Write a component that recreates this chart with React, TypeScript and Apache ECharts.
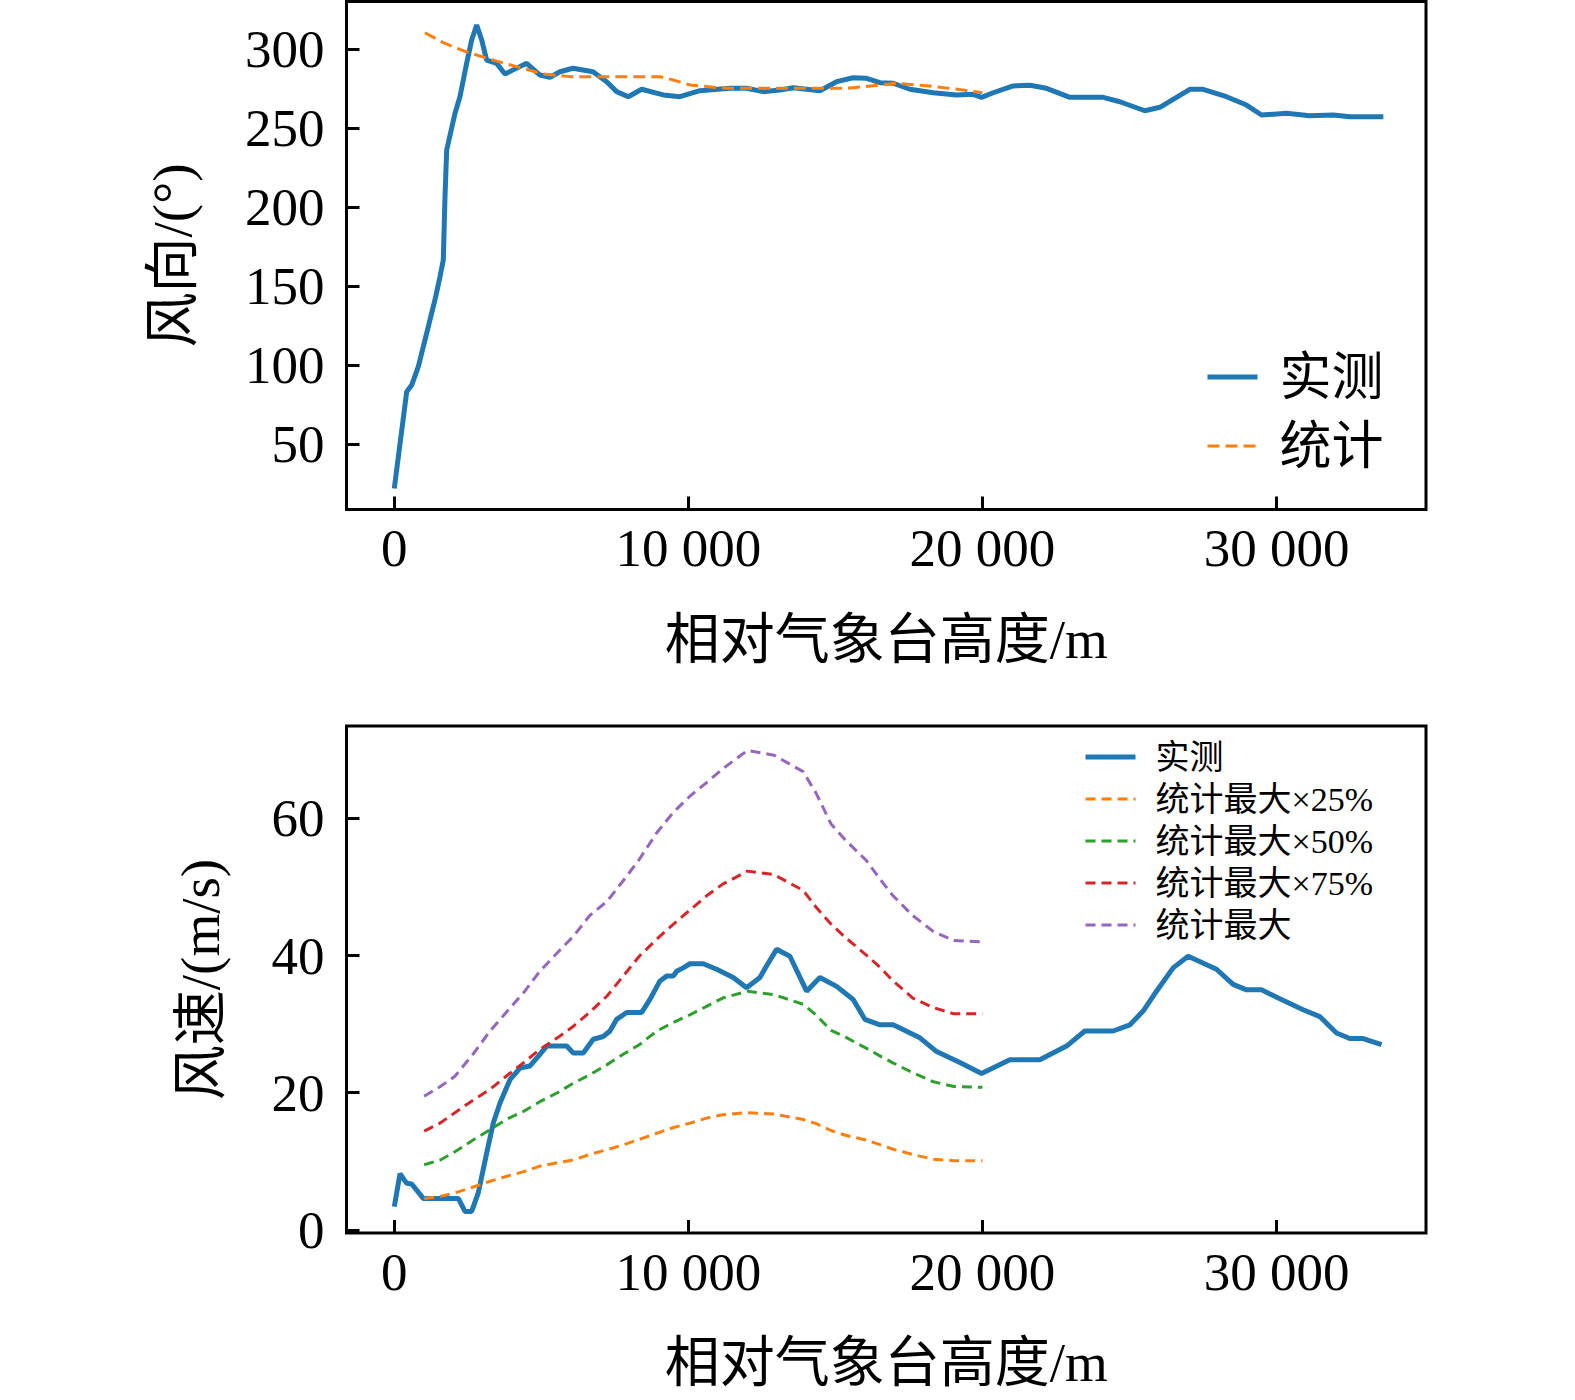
import { useEffect, useRef } from "react";
import * as echarts from "echarts";

// ---- 风向 (top chart) ----
const DIR_H = [
  0, 422, 592, 817, 1102, 1384, 1554, 1666, 1724, 1782, 2064, 2233, 2460, 2631,
  2802, 2972, 3141, 3481, 3763, 3991, 4500, 4953, 5293, 5633, 6075, 6755, 7220,
  7561, 7956, 8410, 9145, 9712, 10392, 11412, 11979, 12544, 13112, 13563, 14471,
  15039, 15603, 16059, 16511, 16963, 17531, 18324, 19119, 19683, 19968, 20362,
  21043, 21610, 22178, 22970, 24103, 24670, 25520, 26030, 27050, 27502, 28297,
  28977, 29488, 30337, 31129, 31922, 32489, 33630,
];
const DIR_MEASURED = [
  22, 83.3, 87.5, 99.1, 120.3, 141.5, 156.1, 166.6, 206.7, 236.3, 259.5, 270,
  291.1, 305.9, 315.4, 305.9, 293.2, 291.1, 284.4, 286.5, 291.1, 283.7, 282.3,
  285.8, 288, 285.8, 279.5, 273.2, 270, 274.7, 271.1, 270, 273.8, 275.3, 275.3,
  273.2, 274.2, 275.7, 273.8, 279.5, 282, 281.6, 278.9, 278.5, 274.7, 272.5,
  271.1, 271.5, 269.6, 272.5, 276.8, 277.2, 275.3, 269.6, 269.6, 266.8, 261.1,
  263.3, 274.7, 274.7, 270, 264.7, 258.4, 259.5, 258, 258.4, 257.3, 257.3,
];
const DIR_STAT_H = [
  1040, 1666, 2346, 3253, 4161, 5065, 5974, 7105, 9034, 9485, 10053, 10844,
  11412, 13792, 15378, 16511, 17079, 18211, 19344, 20000,
];
const DIR_STAT = [
  310.5, 304.2, 299.1, 293.7, 289, 284.4, 282.7, 282.7, 282.7, 280.6, 277.4,
  276, 275.3, 275.3, 275.3, 277.4, 278.5, 276.8, 274.2, 272.5,
];
const DIR_TICKS = [50, 100, 150, 200, 250, 300];

// ---- 风速 (bottom chart) ----
const SPD_H = [
  0, 194, 422, 592, 986, 1554, 2176, 2404, 2631, 2855, 3141, 3366, 3594, 3933,
  4273, 4613, 4895, 5181, 5862, 6085, 6425, 6766, 7105, 7333, 7561, 7901, 8410,
  8693, 9033, 9260, 9485, 9600, 9824, 10052, 10505, 10960, 11525, 11979, 12432,
  12660, 12999, 13452, 14019, 14471, 15039, 15603, 16001, 16511, 16963, 17871,
  18439, 19231, 19968, 20930, 21950, 22858, 23480, 24442, 25013, 25462, 25917,
  26482, 26992, 27957, 28521, 28977, 29487, 30109, 30901, 31468, 32037, 32489,
  32941, 33570,
];
const SPD_MEASURED = [
  3.4, 8.2, 6.8, 6.7, 4.6, 4.6, 4.6, 2.7, 2.7, 5.4, 11.2, 15.6, 18.5, 21.9, 23.6,
  23.9, 25.3, 26.8, 26.8, 25.8, 25.8, 27.8, 28.2, 29.0, 30.7, 31.7, 31.7, 33.6,
  36.3, 37.0, 37.0, 37.7, 38.2, 38.8, 38.8, 38.0, 36.8, 35.3, 36.8, 38.5, 40.9,
  39.9, 34.8, 36.8, 35.5, 33.6, 30.7, 29.9, 29.9, 28.0, 26.0, 24.4, 22.8, 24.8,
  24.8, 26.8, 29.0, 29.0, 29.9, 31.9, 34.8, 38.2, 39.9, 38.0, 35.8, 35.0, 35.0,
  33.7, 32.1, 31.1, 28.7, 27.9, 27.9, 27.0,
];
const STAT_H = [
  1017, 1564, 2061, 2708, 3255, 3803, 4400, 4947, 5544, 6091, 6638, 7235, 7783,
  8330, 8927, 9474, 10071, 10618, 11166, 12011, 12907, 13902, 14350, 14847,
  15345, 16041, 16539, 16937, 17633, 18330, 19026, 20000,
];
const STAT_MAX = [
  19.5, 20.9, 22.4, 25.8, 29.0, 31.7, 34.6, 37.7, 40.4, 42.8, 45.8, 47.9, 50.9,
  54.0, 57.9, 60.8, 63.3, 65.2, 67.2, 69.9, 69.2, 66.8, 63.6, 59.2, 56.8, 53.9,
  51.0, 48.8, 45.8, 43.5, 42.2, 42.0,
];
const STAT_75 = [
  14.4, 15.6, 17.1, 19.0, 20.5, 22.4, 24.4, 26.3, 28.0, 29.7, 31.7, 34.1, 37.0,
  39.9, 42.4, 44.5, 46.7, 48.7, 50.4, 52.3, 51.8, 49.5, 47.0, 44.6, 42.6, 40.1,
  38.2, 36.4, 33.8, 32.4, 31.5, 31.5,
];
const STAT_50 = [
  9.5, 10.2, 11.4, 13.2, 14.6, 16.1, 17.3, 18.7, 20.0, 21.4, 22.6, 24.1, 25.6,
  27.0, 29.0, 30.2, 31.4, 32.6, 33.8, 34.8, 34.3, 32.9, 31.3, 29.1, 28.1, 26.5,
  25.3, 24.4, 22.9, 21.6, 20.9, 20.8,
];
const STAT_25 = [
  4.6, 4.9, 5.4, 6.3, 7.1, 7.8, 8.5, 9.3, 9.8, 10.2, 11.0, 11.7, 12.4, 13.2, 14.1,
  14.9, 15.6, 16.3, 16.8, 17.1, 16.9, 16.1, 15.5, 14.5, 13.8, 13.1, 12.4, 11.8,
  11.0, 10.3, 10.1, 10.1,
];
const SPD_TICKS = [0, 20, 40, 60];
const H_TICKS = [0, 10000, 20000, 30000];

const FONT = '"Liberation Serif", "Noto Sans CJK SC", serif';

// 去掉默认的 8px 边距
document.documentElement.style.margin = "0";
document.body.style.margin = "0";
document.body.style.overflow = "hidden";

const pairs = (xs: number[], ys: number[]) => xs.map((x, i) => [x, ys[i]]);

const fmtH = (v: number) =>
  String(v).replace(/\B(?=(\d{3})+(?!\d))/g, " ");

function heightAxis() {
  return {
    type: "value",
    min: -1625,
    max: 35080,
    axisLine: { show: false, onZero: false },
    axisTick: {
      inside: true,
      length: 13,
      customValues: H_TICKS,
      lineStyle: { color: "#000", width: 3 },
    },
    axisLabel: {
      customValues: H_TICKS,
      formatter: fmtH,
      color: "#000",
      fontSize: 53,
      fontFamily: FONT,
      margin: 12,
    },
    splitLine: { show: false },
    name: "相对气象台高度/m",
    nameLocation: "middle",
    nameGap: 102,
    nameTextStyle: { color: "#000", fontSize: 55, fontFamily: FONT },
  };
}

function valueAxis(min: number, max: number, ticks: number[], name: string, gap: number) {
  return {
    type: "value",
    min,
    max,
    axisLine: { show: false, onZero: false },
    axisTick: {
      inside: true,
      length: 13,
      customValues: ticks,
      lineStyle: { color: "#000", width: 3 },
    },
    axisLabel: {
      customValues: ticks,
      color: "#000",
      fontSize: 53,
      fontFamily: FONT,
      margin: 22,
    },
    splitLine: { show: false },
    name,
    nameLocation: "middle",
    nameGap: gap,
    nameRotate: 90,
    nameTextStyle: { color: "#000", fontSize: 55, fontFamily: FONT },
  };
}

function lineSeries(name: string, data: number[][], color: string, width: number, dash?: number[]) {
  return {
    name,
    type: "line",
    data,
    symbol: "none",
    itemStyle: { color },
    lineStyle: { color, width, type: dash || "solid" },
  };
}

const legendItem = (name: string, width: number) => ({ name, lineStyle: { width } });

const frame = { show: true, borderColor: "#000", borderWidth: 3, left: 346.5, width: 1079.5 };

const topOption = {
  animation: false,
  grid: { ...frame, top: 1.5, height: 508 },
  xAxis: heightAxis(),
  yAxis: valueAxis(8.73, 330.25, DIR_TICKS, "风向/(°)", 147),
  legend: {
    orient: "vertical",
    left: 1200,
    top: 344,
    itemWidth: 50,
    itemHeight: 14,
    itemGap: 13,
    itemStyle: { opacity: 0 },
    textStyle: {
      color: "#000",
      fontSize: 52,
      lineHeight: 56,
      fontFamily: FONT,
      padding: [0, 0, 0, 17],
    },
    data: [legendItem("实测", 5), legendItem("统计", 3)],
  },
  series: [
    lineSeries("实测", pairs(DIR_H, DIR_MEASURED), "#1f77b4", 5),
    lineSeries("统计", pairs(DIR_STAT_H, DIR_STAT), "#ff7f0e", 3, [12, 6]),
  ],
};

const bottomOption = {
  animation: false,
  grid: { ...frame, top: 26, height: 507 },
  xAxis: heightAxis(),
  yAxis: valueAxis(-0.44, 73.45, SPD_TICKS, "风速/(m/s)", 119),
  legend: {
    orient: "vertical",
    left: 1078,
    top: 34,
    itemWidth: 50,
    itemHeight: 12,
    itemGap: 6,
    itemStyle: { opacity: 0 },
    textStyle: {
      color: "#000",
      fontSize: 34,
      lineHeight: 36,
      fontFamily: FONT,
      padding: [0, 0, 0, 15],
    },
    data: [
      legendItem("实测", 5),
      legendItem("统计最大×25%", 3),
      legendItem("统计最大×50%", 3),
      legendItem("统计最大×75%", 3),
      legendItem("统计最大", 3),
    ],
  },
  series: [
    lineSeries("实测", pairs(SPD_H, SPD_MEASURED), "#1f77b4", 5),
    lineSeries("统计最大×25%", pairs(STAT_H, STAT_25), "#ff7f0e", 3, [10, 6]),
    lineSeries("统计最大×50%", pairs(STAT_H, STAT_50), "#2ca02c", 3, [10, 6]),
    lineSeries("统计最大×75%", pairs(STAT_H, STAT_75), "#d62728", 3, [10, 6]),
    lineSeries("统计最大", pairs(STAT_H, STAT_MAX), "#9467bd", 3, [10, 6]),
  ],
};

function Chart({ option }: { option: any }) {
  const ref = useRef<HTMLDivElement>(null);

  useEffect(() => {
    if (!ref.current) return;
    const chart = echarts.init(ref.current, undefined, { renderer: "svg" });
    chart.setOption(option);
    return () => chart.dispose();
  }, [option]);

  return <div ref={ref} style={{ width: 1575, height: 700 }} />;
}

export default function App() {
  return (
    <div style={{ width: 1575, height: 1400, background: "#fff", overflow: "hidden" }}>
      <Chart option={topOption} />
      <Chart option={bottomOption} />
    </div>
  );
}
